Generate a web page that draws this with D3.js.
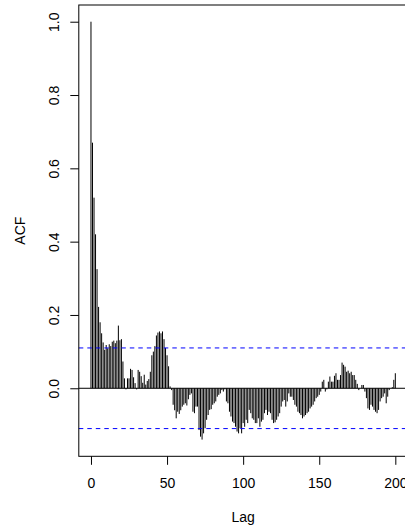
<!DOCTYPE html>
<html>
<head>
<meta charset="utf-8">
<script src="https://cdn.jsdelivr.net/npm/d3@7"></script>
<style>
  html, body { margin: 0; padding: 0; background: #fff; }
  svg { display: block; font-family: "Liberation Sans", Arial, Helvetica, sans-serif; }
</style>
</head>
<body>
<svg id="chart" width="405" height="529"></svg>
<script>
// ---- data ----
const acfValues = [
  1.000, 0.670, 0.520, 0.420, 0.325, 0.222, 0.180, 0.150, 0.125, 0.105,
  0.118, 0.109, 0.120, 0.115, 0.127, 0.130, 0.123, 0.130, 0.171, 0.131,
  0.134, 0.073, 0.027, -0.003, 0.027, 0.027, 0.053, 0.050, 0.030, 0.014,
  -0.003, 0.050, 0.045, 0.033, 0.015, 0.037, 0.010, 0.020, 0.025, 0.045,
  0.090, 0.100, 0.115, 0.144, 0.152, 0.155, 0.150, 0.155, 0.134, 0.110,
  0.090, 0.060, 0.005, -0.005, -0.045, -0.060, -0.082, -0.064, -0.070, -0.060,
  -0.050, -0.045, -0.041, -0.047, -0.030, -0.018, -0.014, -0.064, -0.068, -0.050,
  -0.050, -0.114, -0.132, -0.140, -0.123, -0.109, -0.086, -0.073, -0.059, -0.057,
  -0.045, -0.041, -0.036, -0.023, -0.018, -0.014, -0.005, -0.009, -0.003, -0.036,
  -0.041, -0.064, -0.077, -0.091, -0.095, -0.105, -0.118, -0.123, -0.109, -0.123,
  -0.095, -0.105, -0.086, -0.095, -0.059, -0.068, -0.082, -0.086, -0.095, -0.095,
  -0.082, -0.105, -0.091, -0.086, -0.068, -0.059, -0.073, -0.064, -0.068, -0.086,
  -0.095, -0.093, -0.086, -0.077, -0.068, -0.050, -0.036, -0.032, -0.050, -0.036,
  -0.014, -0.023, -0.023, -0.032, -0.045, -0.050, -0.064, -0.068, -0.073, -0.082,
  -0.077, -0.073, -0.068, -0.064, -0.055, -0.050, -0.045, -0.036, -0.027, -0.023,
  -0.018, -0.009, 0.018, 0.023, -0.009, -0.003, 0.018, 0.032, 0.018, 0.018,
  0.034, 0.041, 0.023, 0.023, 0.036, 0.070, 0.064, 0.059, 0.045, 0.048,
  0.041, 0.045, 0.036, 0.036, 0.023, 0.012, -0.005, 0.000, 0.009, 0.009,
  -0.009, -0.027, -0.055, -0.059, -0.045, -0.050, -0.059, -0.064, -0.068, -0.059,
  -0.036, -0.027, -0.023, -0.014, -0.041, -0.023, -0.005, 0.000, 0.003, 0.023,
  0.041
];
const lags = acfValues.map((_, i) => i);
const confLimit = 0.11;
const xTickValues = [0, 50, 100, 150, 200];
const yTickValues = [0.0, 0.2, 0.4, 0.6, 0.8, 1.0];
const xLabel = "Lag";
const yLabel = "ACF";

// ---- layout ----
const svg = d3.select("#chart");
const plot = { left: 78.8, right: 407.5, top: 5.0, bottom: 456.3 };

// R-style 4% range extension
function extend(lo, hi) { const d = (hi - lo) * 0.04; return [lo - d, hi + d]; }
const xDom = extend(d3.min(lags), d3.max(lags));
const yDom = extend(Math.min(d3.min(acfValues), -confLimit), Math.max(d3.max(acfValues), confLimit));

const x = d3.scaleLinear().domain(xDom).range([plot.left, plot.right]);
const y = d3.scaleLinear().domain(yDom).range([plot.bottom, plot.top]);

// bars (type = "h")
svg.append("g").selectAll("line")
  .data(lags)
  .join("line")
  .attr("x1", d => x(d)).attr("x2", d => x(d))
  .attr("y1", y(0)).attr("y2", d => y(acfValues[d]))
  .attr("stroke", "#000").attr("stroke-width", 1);

// zero line
svg.append("line")
  .attr("x1", plot.left).attr("x2", plot.right)
  .attr("y1", y(0)).attr("y2", y(0))
  .attr("stroke", "#000").attr("stroke-width", 1);

// confidence limits
[confLimit, -confLimit].forEach(c => {
  svg.append("line")
    .attr("x1", plot.left).attr("x2", plot.right)
    .attr("y1", y(c)).attr("y2", y(c))
    .attr("stroke", "#0000ff").attr("stroke-width", 1)
    .attr("stroke-dasharray", "4.5,4");
});

// box
svg.append("rect")
  .attr("x", plot.left).attr("y", plot.top)
  .attr("width", plot.right - plot.left).attr("height", plot.bottom - plot.top)
  .attr("fill", "none").attr("stroke", "#000").attr("stroke-width", 1);

// x axis
const gx = svg.append("g")
  .attr("transform", `translate(0,${plot.bottom})`)
  .call(d3.axisBottom(x).tickValues(xTickValues).tickSize(8.5).tickFormat(d3.format("d")));
gx.select(".domain").remove();
gx.selectAll(".tick line").attr("stroke", "#000");
gx.selectAll(".tick text")
  .attr("y", 32).attr("dy", 0)
  .attr("font-size", 14).attr("font-family", "Liberation Sans, Arial, sans-serif")
  .attr("fill", "#000");

// y axis
const gy = svg.append("g")
  .attr("transform", `translate(${plot.left},0)`)
  .call(d3.axisLeft(y).tickValues(yTickValues).tickSize(8.5).tickFormat(d3.format(".1f")));
gy.select(".domain").remove();
gy.selectAll(".tick line").attr("stroke", "#000");
gy.selectAll(".tick text")
  .attr("transform", "rotate(-90)")
  .attr("x", 0).attr("y", -20).attr("dy", 0)
  .attr("text-anchor", "middle")
  .attr("font-size", 14).attr("font-family", "Liberation Sans, Arial, sans-serif")
  .attr("fill", "#000");

// axis titles
svg.append("text")
  .attr("x", (plot.left + plot.right) / 2).attr("y", 522)
  .attr("text-anchor", "middle").attr("font-size", 14).attr("fill", "#000")
  .text(xLabel);
svg.append("text")
  .attr("transform", `translate(25,${(plot.top + plot.bottom) / 2}) rotate(-90)`)
  .attr("text-anchor", "middle").attr("font-size", 14).attr("fill", "#000")
  .text(yLabel);
</script>
</body>
</html>
